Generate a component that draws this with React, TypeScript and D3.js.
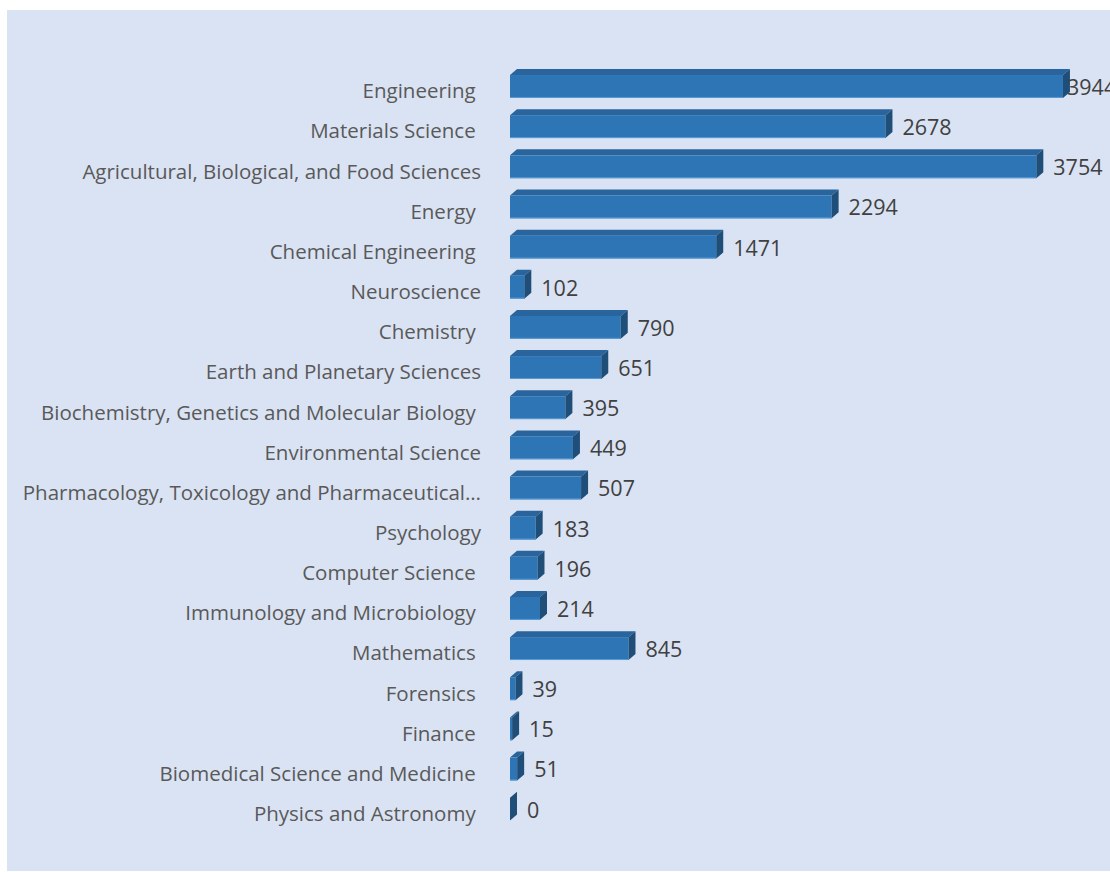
import React from "react";
import * as d3 from "d3";

const categories: string[] = [
  "Engineering ",
  "Materials Science ",
  "Agricultural, Biological, and Food Sciences",
  "Energy ",
  "Chemical Engineering ",
  "Neuroscience",
  "Chemistry ",
  "Earth and Planetary Sciences",
  "Biochemistry, Genetics and Molecular Biology ",
  "Environmental Science",
  "Pharmacology, Toxicology and Pharmaceutical…",
  "Psychology",
  "Computer Science ",
  "Immunology and Microbiology ",
  "Mathematics ",
  "Forensics ",
  "Finance ",
  "Biomedical Science and Medicine ",
  "Physics and Astronomy ",
];

const values: number[] = [
  3944, 2678, 3754, 2294, 1471, 102, 790, 651, 395, 449, 507, 183, 196, 214, 845, 39, 15, 51, 0,
];

const W = 1110;
const H = 872;
const DX = 7;
const DY = -6;
const FONT = "'Open Sans', 'Noto Sans', sans-serif";

export default function App() {
  const x = d3.scaleLinear().domain([0, 4500]).range([510, 510 + 4500 * 0.1402]);
  const y = d3
    .scaleBand<string>()
    .domain(categories)
    .range([66.4, 66.4 + 19 * 40.15])
    .paddingInner(0.43)
    .paddingOuter(0.215);
  const bw = y.bandwidth();
  const labelRight = 481;
  const valueMax = 1067;

  return (
    <svg
      width={W}
      height={H}
      style={{ position: "absolute", left: 0, top: 0, background: "#ffffff" }}
    >
      <rect x={7} y={10} width={W - 7} height={H - 11} fill="#dae3f3" />
      {categories.map((c, i) => {
        const v = values[i];
        const y0 = y(c) as number;
        const x0 = x(0);
        const x1 = x(v);
        const top = `M${x0},${y0} L${x0 + DX},${y0 + DY} L${x1 + DX},${y0 + DY} L${x1},${y0} Z`;
        const side = `M${x1},${y0} L${x1 + DX},${y0 + DY} L${x1 + DX},${y0 + bw + DY} L${x1},${y0 + bw} Z`;
        const lx = Math.min(x1 + DX + 10, valueMax);
        return (
          <g key={c}>
            {x1 > x0 && <path d={top} fill="#2a649c" />}
            {x1 > x0 && <rect x={x0} y={y0} width={x1 - x0} height={bw} fill="#2e75b6" />}
            {x1 > x0 && (
              <line x1={x0} x2={x1} y1={y0 + bw - 0.5} y2={y0 + bw - 0.5} stroke="#5b9bd5" strokeWidth={1} />
            )}
            <path d={side} fill="#1f4e79" />
            <text
              x={labelRight}
              y={y0 + 23.3}
              textAnchor="end"
              fontFamily={FONT}
              fontSize={20.5}
              fill="#595959"
              style={{ whiteSpace: "pre" }}
            >
              {c}
            </text>
            <text
              x={lx}
              y={y0 + 19.9}
              fontFamily={FONT}
              fontSize={21.5}
              fill="#404040"
            >
              {v}
            </text>
          </g>
        );
      })}
    </svg>
  );
}
